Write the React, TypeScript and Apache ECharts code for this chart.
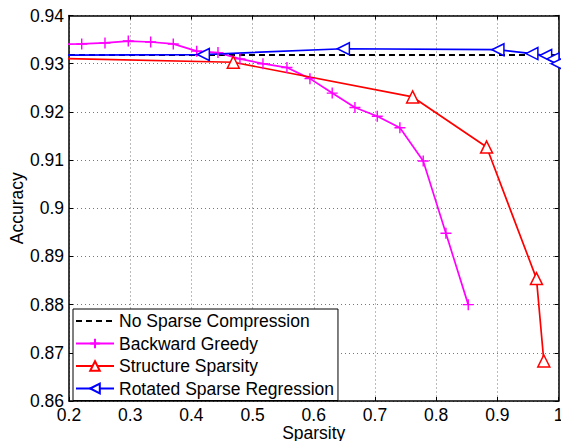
import React, { useEffect, useRef } from "react";
import * as echarts from "echarts";

const FONT = "'Liberation Sans', Arial, Helvetica, sans-serif";

const seriesNames = [
  "No Sparse Compression",
  "Backward Greedy",
  "Structure Sparsity",
  "Rotated Sparse Regression",
];

const baselineX = [0.2, 1.0];
const baselineY = [0.9318, 0.9318];

const greedyX = [0.184, 0.2208, 0.2588, 0.2969, 0.3335, 0.3704, 0.4087, 0.4435, 0.4794, 0.517, 0.5562, 0.5938, 0.6302, 0.6673, 0.7038, 0.7408, 0.7789, 0.816, 0.8525];
const greedyY = [0.934, 0.9341, 0.9343, 0.9347, 0.9345, 0.9341, 0.9326, 0.9323, 0.931, 0.93, 0.9292, 0.9269, 0.9239, 0.9209, 0.9191, 0.9167, 0.9098, 0.8948, 0.88];

const structX = [0.1, 0.4685, 0.7616, 0.8825, 0.964, 0.976];
const structY = [0.9313, 0.9303, 0.9231, 0.9127, 0.8854, 0.8683];

const rotatedX = [0.1, 0.4195, 0.6484, 0.901, 0.9565, 0.979, 0.991, 0.998];
const rotatedY = [0.9317, 0.9319, 0.9331, 0.9329, 0.9321, 0.9317, 0.931, 0.93];

const xTicks = { min: 0.2, max: 1, interval: 0.1 };
const yTicks = { min: 0.86, max: 0.94, interval: 0.01 };

const zip = (xs: number[], ys: number[]) => xs.map((x, i) => [x, ys[i]]);
const fmt = (v: number) => String(Number(v.toFixed(2)));

export default function App() {
  const ref = useRef<HTMLDivElement>(null);
  useEffect(() => {
    if (!ref.current) return;
    const chart = echarts.init(ref.current, undefined, { renderer: "svg" });
    const axisLine = { show: true, onZero: false, lineStyle: { color: "#000", width: 1.5 } };
    const axisTick = { show: true, inside: true, length: 4, lineStyle: { color: "#000", width: 1 } };
    const splitLine = { show: true, lineStyle: { color: "#777", type: [1, 3] as any, width: 1 } };
    const fs = 17.5;
    chart.setOption({
      animation: false,
      backgroundColor: "#fff",
      textStyle: { fontFamily: FONT },
      grid: { left: 69, right: 2.5, top: 15.5, bottom: 40, containLabel: false, outerBoundsMode: "none" },
      legend: {
        orient: "vertical",
        left: 73,
        top: 309,
        itemWidth: 38,
        itemHeight: 12,
        itemGap: 4.5,
        padding: [3, 4, 3, 2],
        borderColor: "#000",
        borderWidth: 1,
        backgroundColor: "#fff",
        textStyle: { fontSize: fs, color: "#000", fontFamily: FONT },
        data: seriesNames,
      },
      xAxis: [
        {
          type: "value",
          position: "bottom",
          ...xTicks,
          name: "Sparsity",
          nameLocation: "middle",
          nameGap: 23,
          nameMoveOverlap: false,
          nameTextStyle: { fontSize: fs, color: "#000", fontFamily: FONT },
          axisLine,
          axisTick,
          splitLine,
          axisLabel: { fontSize: fs, color: "#000", margin: 5, fontFamily: FONT, formatter: fmt },
        },
        {
          type: "value",
          position: "top",
          ...xTicks,
          axisLine,
          axisTick,
          splitLine: { show: false },
          axisLabel: { show: false },
        },
      ],
      yAxis: [
        {
          type: "value",
          position: "left",
          ...yTicks,
          name: "Accuracy",
          nameLocation: "middle",
          nameGap: 43,
          nameMoveOverlap: false,
          nameTextStyle: { fontSize: fs, color: "#000", fontFamily: FONT },
          axisLine,
          axisTick,
          splitLine,
          axisLabel: { fontSize: fs, color: "#000", margin: 5, fontFamily: FONT, formatter: fmt },
        },
        {
          type: "value",
          position: "right",
          ...yTicks,
          axisLine,
          axisTick,
          splitLine: { show: false },
          axisLabel: { show: false },
        },
      ],
      series: [
        {
          name: seriesNames[0],
          type: "line",
          data: zip(baselineX, baselineY),
          showSymbol: false,
          symbol: "none",
          lineStyle: { color: "#000", width: 1.8, type: [6, 4] },
          itemStyle: { color: "rgba(0,0,0,0)", borderColor: "rgba(0,0,0,0)", borderWidth: 0 },
        },
        {
          name: seriesNames[1],
          type: "line",
          data: zip(greedyX, greedyY),
          symbol: "path://M0,5 L10,5 M5,0 L5,10",
          symbolSize: 11,
          lineStyle: { color: "#ff00ff", width: 1.7 },
          itemStyle: { color: "#ff00ff", borderColor: "#ff00ff", borderWidth: 1.4 },
        },
        {
          name: seriesNames[2],
          type: "line",
          data: zip(structX, structY),
          symbol: "triangle",
          symbolSize: 12,
          lineStyle: { color: "#ff0000", width: 1.7 },
          itemStyle: { color: "#fff", borderColor: "#ff0000", borderWidth: 1.5 },
        },
        {
          name: seriesNames[3],
          type: "line",
          data: zip(rotatedX, rotatedY),
          symbol: "triangle",
          symbolRotate: 90,
          symbolSize: 12,
          lineStyle: { color: "#0000ff", width: 1.7 },
          itemStyle: { color: "#fff", borderColor: "#0000ff", borderWidth: 1.5 },
        },
      ],
    });
    return () => chart.dispose();
  }, []);
  return (
    <div
      ref={ref}
      style={{ position: "fixed", left: 0, top: 0, width: 561, height: 441 }}
    />
  );
}
